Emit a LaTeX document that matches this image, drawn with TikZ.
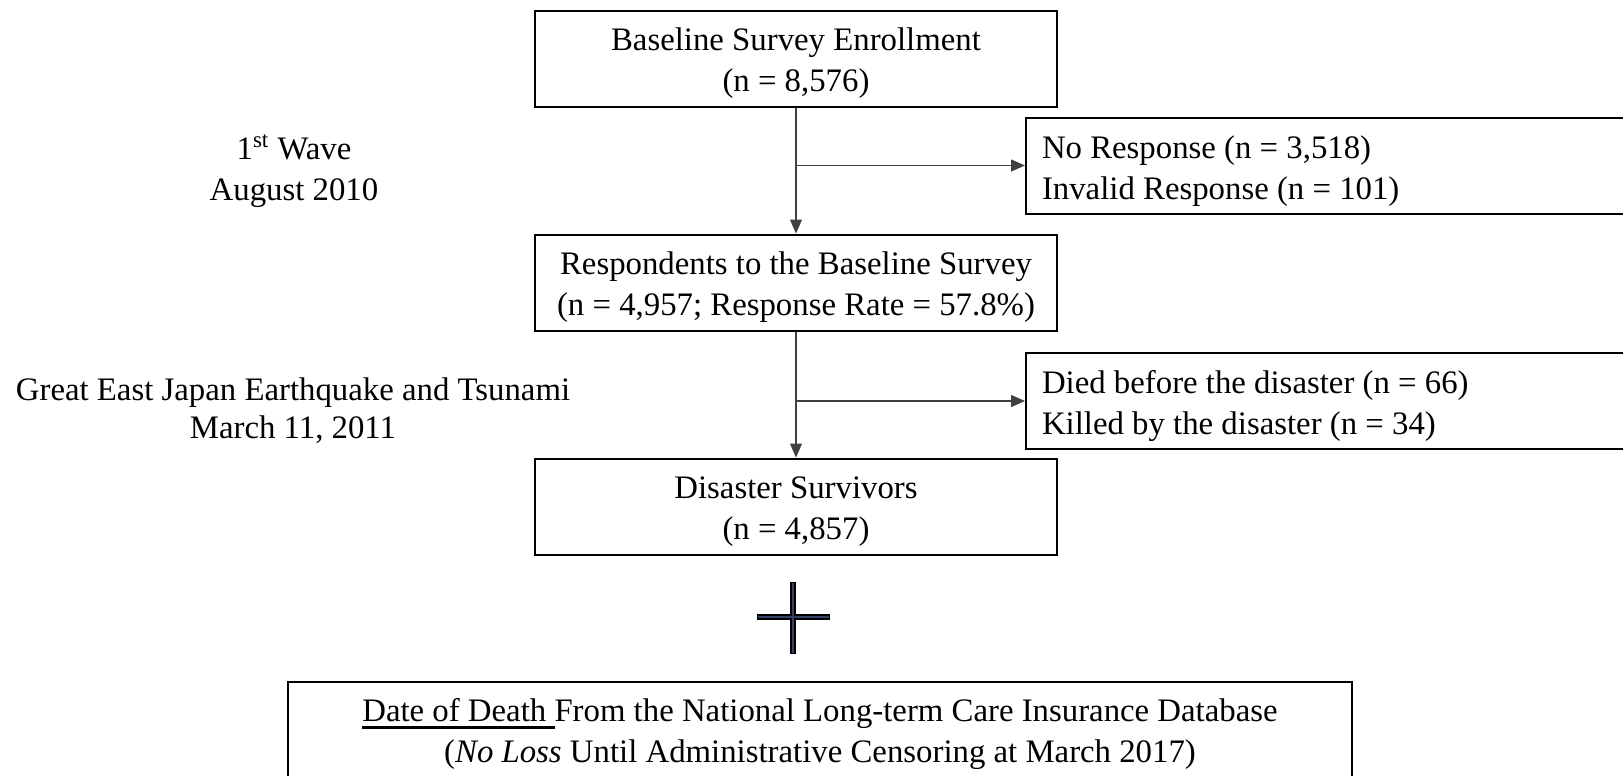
\documentclass[tikz,border=0pt]{standalone}
\usepackage{fontspec}
\setmainfont{Liberation Serif}
\usetikzlibrary{arrows.meta,positioning}
\definecolor{crossblue}{HTML}{34406A}
\newcommand\thickul[1]{\vtop{\hbox{#1}\kern2.2pt\hrule height 1.2pt}}

\begin{document}
\begin{tikzpicture}[x=0.5pt,y=-0.5pt,>={Triangle[length=7pt,width=6pt]},
                    node distance=112pt,on grid,
                    font=\fontsize{16.4}{20.5}\selectfont]
      \tikzset{box/.style={draw,line width=1pt,text width=261pt,minimum height=48pt,
                           align=flush center,inner sep=0pt,
                           execute at begin node={\rule{0pt}{16pt}}},
               side/.style={draw,line width=1pt,anchor=west,minimum height=48pt,
                            text width=300pt,align=flush left,inner xsep=8pt,inner ysep=0pt,
                            execute at begin node={\rule{0pt}{16.5pt}}},
               flow/.style={draw=black!75,line width=0.6pt,->}}
      \useasboundingbox (0,0) rectangle (1623,776);
      \clip (0,0) rectangle (1623,776);

      \node[box] (enroll) at (796,58.5) {Baseline Survey Enrollment\\(n = 8,576)};
      \node[box] (resp) [below=of enroll] {Respondents to the Baseline Survey\\(n = 4,957; Response Rate = 57.8\%)};
      \node[box] (surv) [below=of resp] {Disaster Survivors\\(n = 4,857)};

      \node[side] (nores) at (1025,165.5) {No Response (n = 3,518)\\Invalid Response (n = 101)};
      \node[side] (died) at (1025,401) {Died before the disaster (n = 66)\\Killed by the disaster (n = 34)};

      \node[align=center] (wave) at (294,171) {1\textsuperscript{st} Wave\\August 2010};
      \node[align=center] (quake) at (293,411) {Great East Japan Earthquake and Tsunami\\[-1.5pt]March 11, 2011};

      \node[box,text width=532pt] (death) at (820,729.5)
        {\thickul{Date of Death\ }From the National Long-term Care Insurance Database\\(\textit{No Loss} Until Administrative Censoring at March 2017)};

      \path[flow] (enroll) -- (resp);
      \path[flow] (resp) -- (surv);
      \path[flow] (nores.west -| enroll.south) -- (nores.west);
      \path[flow] (died.west -| resp.south) -- (died.west);

      % plus sign
      \draw[line width=2.6pt] (757,617) -- (830,617) (793,582) -- (793,654);
      \draw[crossblue,line width=0.6pt] (758,617) -- (829,617) (793,583) -- (793,653);
    \end{tikzpicture}
\end{document}
